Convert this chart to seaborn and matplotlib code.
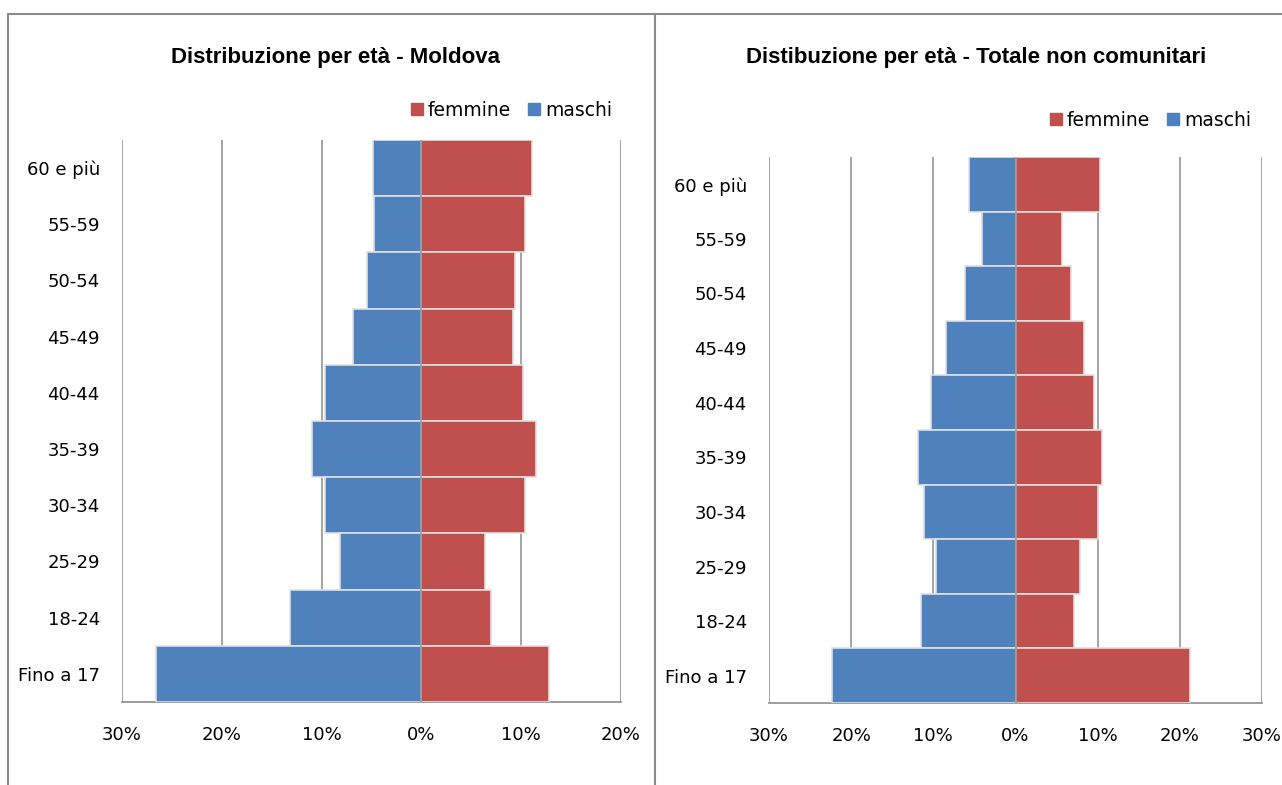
import matplotlib.pyplot as plt
import matplotlib.lines as mlines
import numpy as np
import pandas as pd
import seaborn as sns

# --- data (percent of each population) ---
ages = ["60 e più", "55-59", "50-54", "45-49", "40-44",
        "35-39", "30-34", "25-29", "18-24", "Fino a 17"]

moldova_maschi = [4.8, 4.7, 5.5, 6.9, 9.7, 11.0, 9.7, 8.2, 13.2, 26.6]
moldova_femmine = [11.1, 10.4, 9.4, 9.2, 10.2, 11.5, 10.4, 6.4, 7.0, 12.8]

totale_maschi = [5.6, 4.1, 6.2, 8.4, 10.3, 11.9, 11.1, 9.7, 11.5, 22.3]
totale_femmine = [10.3, 5.7, 6.8, 8.3, 9.6, 10.5, 10.1, 7.9, 7.1, 21.2]

titles = ["Distribuzione per età - Moldova",
          "Distibuzione per età - Totale non comunitari"]
xlims = [(-30, 20), (-30, 30)]

blue = "#4F81BD"
red = "#C0504D"
grid_col = "#8c8c8c"

sns.set_theme(style="white")
plt.rcParams["font.family"] = ["DejaVu Sans"]
plt.rcParams["text.color"] = "black"
plt.rcParams["xtick.color"] = "black"
plt.rcParams["ytick.color"] = "black"
title_font = ["Liberation Sans Narrow", "Liberation Sans", "DejaVu Sans"]

fig = plt.figure(figsize=(12.82, 7.85), dpi=100)

# axes placed in pixel terms of the reference
axes_px = [(122, 140, 621, 702), (769, 157, 1262, 703)]
legend_px = [(612, 110), (1251, 120)]
title_px = [(335, 57), (976, 57)]

datasets = [(moldova_maschi, moldova_femmine), (totale_maschi, totale_femmine)]
W, H = 1282, 785

for i, (maschi, femmine) in enumerate(datasets):
    x0, y0, x1, y1 = axes_px[i]
    ax = fig.add_axes([x0 / W, 1 - y1 / H, (x1 - x0) / W, (y1 - y0) / H])

    df = pd.DataFrame({
        "age": ages,
        "maschi": -np.array(maschi),
        "femmine": np.array(femmine),
    })

    sns.barplot(data=df, y="age", x="maschi", order=ages, color=blue,
                width=1.0, edgecolor="#e0e0e0", linewidth=1.2,
                saturation=1, ax=ax, zorder=3)
    sns.barplot(data=df, y="age", x="femmine", order=ages, color=red,
                width=1.0, edgecolor="#e0e0e0", linewidth=1.2,
                saturation=1, ax=ax, zorder=3)

    lo, hi = xlims[i]
    ax.set_xlim(lo, hi)
    ax.set_ylim(len(ages) - 0.5, -0.5)
    ticks = np.arange(lo, hi + 1, 10)
    ax.set_xticks(ticks)
    ax.set_xticklabels([f"{abs(int(t))}%" for t in ticks])
    for t in ticks:
        ax.axvline(t, color=grid_col, lw=1.1, zorder=1 if t != 0 else 4)

    ax.tick_params(axis="x", length=0, pad=17, labelsize=13)
    ax.tick_params(axis="y", length=0, pad=16, labelsize=13)
    ax.set_xlabel("")
    ax.set_ylabel("")

    for side in ["top", "right", "left"]:
        ax.spines[side].set_visible(False)
    ax.spines["bottom"].set_color(grid_col)
    ax.spines["bottom"].set_linewidth(1.2)

    # title
    tx, ty = title_px[i]
    fig.text(tx / W, 1 - ty / H, titles[i], ha="center", va="center",
             fontsize=16, fontweight="bold", family=title_font)

    # legend
    h_f = mlines.Line2D([], [], color=red, marker="s", linestyle="",
                        markersize=9)
    h_m = mlines.Line2D([], [], color=blue, marker="s", linestyle="",
                        markersize=9)
    lx, ly = legend_px[i]
    fig.legend([h_f, h_m], ["femmine", "maschi"], ncol=2, frameon=False,
               loc="center right", bbox_to_anchor=(lx / W, 1 - ly / H),
               fontsize=13.5, handletextpad=0.1, columnspacing=0.7,
               handlelength=1.0, borderaxespad=0, borderpad=0)

# outer frame and divider
frame_col = "#8a8a8a"
fig.add_artist(mlines.Line2D([8 / W, 1], [1 - 14 / H, 1 - 14 / H],
                             color=frame_col, lw=1.5))
fig.add_artist(mlines.Line2D([8 / W, 8 / W], [0, 1 - 14 / H],
                             color=frame_col, lw=1.5))
fig.add_artist(mlines.Line2D([655 / W, 655 / W], [0, 1 - 14 / H],
                             color=frame_col, lw=1.5))

fig.savefig("out.png", dpi=100)
